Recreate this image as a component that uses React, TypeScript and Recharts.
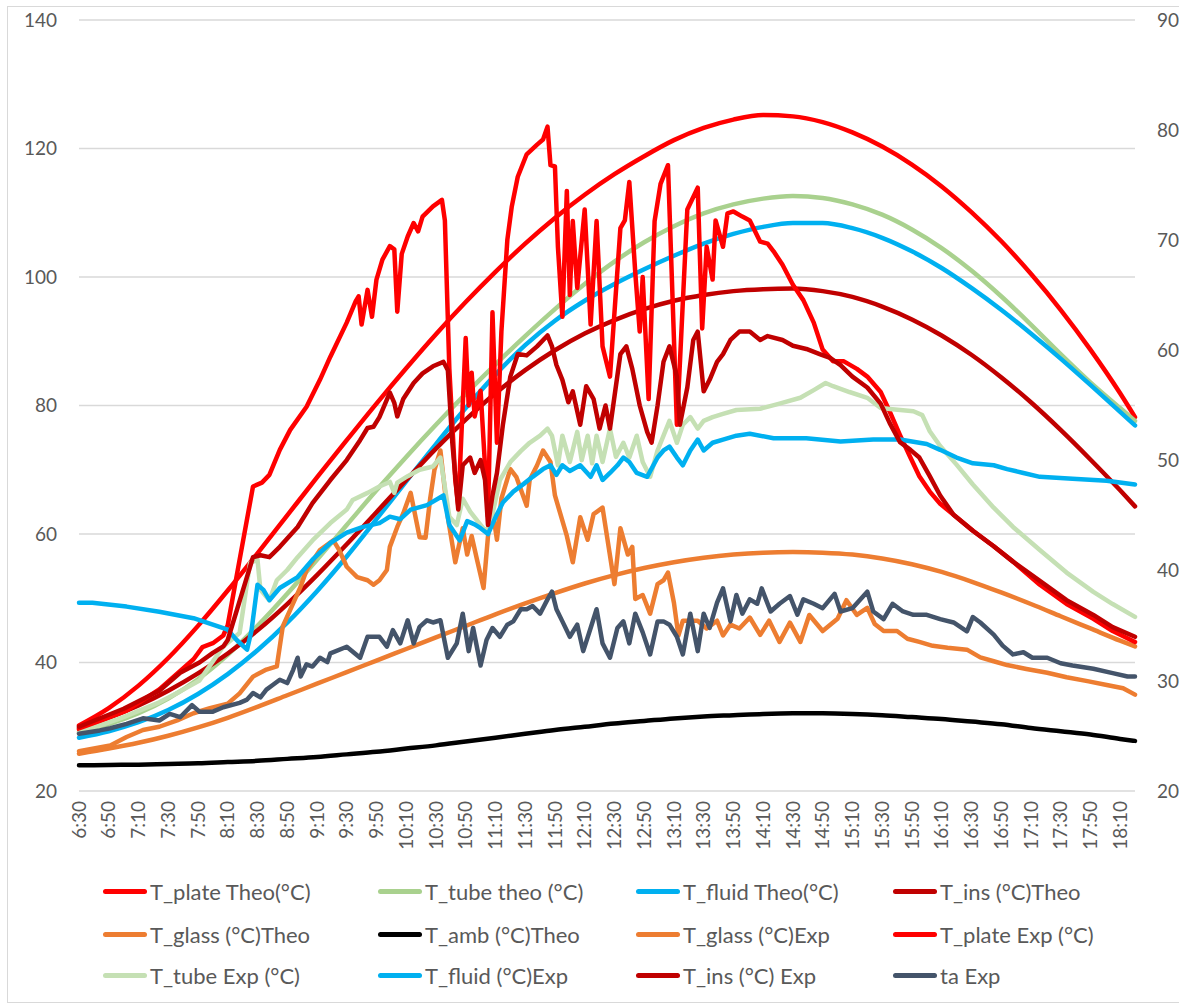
import React from 'react';
import { LineChart, Line, XAxis, YAxis, CartesianGrid } from 'recharts';

// minutes after 6:30
const toMin = (s: string) => {
  const [h, m] = s.split(':').map(Number);
  return h * 60 + m - 390;
};

const timeLabels = [
  '6:30', '6:50', '7:10', '7:30', '7:50', '8:10', '8:30', '8:50', '9:10', '9:30', '9:50', '10:10',
  '10:30', '10:50', '11:10', '11:30', '11:50', '12:10', '12:30', '12:50', '13:10', '13:30', '13:50', '14:10',
  '14:30', '14:50', '15:10', '15:30', '15:50', '16:10', '16:30', '16:50', '17:10', '17:30', '17:50', '18:10',
];
const theoTimes = [...timeLabels, '18:20'];

const leftTicks = [20, 40, 60, 80, 100, 120, 140];
const rightTicks = [20, 30, 40, 50, 60, 70, 80, 90];

// theoretical series, one value per theoTimes entry
const plateTheo = [30.2, 32.9, 36.4, 40.7, 45.7, 51.2, 57.0, 62.9, 68.8, 74.6, 80.3, 85.8, 91.1, 96.1, 100.8, 105.2, 109.2, 112.8, 116.0, 118.8, 121.3, 123.2, 124.5, 125.2, 125.0, 124.1, 122.5, 120.3, 117.5, 114.1, 110.1, 105.6, 100.5, 94.9, 88.7, 81.9, 78.2];
const tubeTheo = [29.2, 30.4, 32.1, 34.4, 37.4, 41.2, 45.7, 50.7, 56.0, 61.4, 66.8, 72.0, 77.0, 81.8, 86.4, 90.8, 95.0, 98.9, 102.4, 105.4, 107.9, 109.9, 111.3, 112.2, 112.6, 112.3, 111.3, 109.7, 107.4, 104.5, 101.0, 97.0, 92.6, 88.0, 83.6, 79.6, 77.6];
const fluidTheo = [28.3, 29.3, 30.7, 32.6, 35.1, 38.2, 41.9, 46.2, 51.1, 56.5, 62.3, 68.2, 74.0, 79.6, 84.8, 89.4, 93.2, 96.3, 98.9, 101.2, 103.3, 105.2, 106.7, 107.8, 108.4, 108.4, 107.6, 106.1, 104.0, 101.4, 98.3, 94.9, 91.2, 87.3, 83.2, 79.0, 76.9];
const insTheo = [29.8, 31.4, 33.3, 35.6, 38.3, 41.4, 45.0, 49.1, 53.6, 58.4, 63.4, 68.4, 73.3, 77.8, 81.9, 85.5, 88.6, 91.2, 93.3, 95.0, 96.3, 97.2, 97.8, 98.1, 98.2, 97.8, 96.9, 95.4, 93.4, 90.9, 87.9, 84.4, 80.5, 76.2, 71.6, 66.8, 64.3];
const glassTheo = [25.8, 26.6, 27.5, 28.6, 29.9, 31.4, 33.1, 34.9, 36.7, 38.5, 40.3, 42.1, 43.9, 45.7, 47.5, 49.2, 50.8, 52.3, 53.6, 54.7, 55.6, 56.3, 56.8, 57.1, 57.2, 57.1, 56.8, 56.2, 55.3, 54.1, 52.6, 50.9, 49.1, 47.2, 45.3, 43.4, 42.5];
const ambTheo = [24.0, 24.05, 24.1, 24.2, 24.3, 24.5, 24.7, 25.0, 25.3, 25.7, 26.1, 26.6, 27.1, 27.7, 28.3, 28.9, 29.5, 30.0, 30.5, 30.9, 31.3, 31.6, 31.8, 32.0, 32.1, 32.1, 32.0, 31.8, 31.5, 31.2, 30.8, 30.4, 29.8, 29.3, 28.8, 28.1, 27.8];

// experimental series, [time, value]
const glassExp: [string, number][] = [
  ['6:30', 26.2], ['6:51', 27.1], ['7:02', 28.4], ['7:13', 29.5], ['7:24', 30.0], ['7:36', 31.0], ['7:47', 32.1], ['7:58', 32.9],
  ['8:10', 33.6], ['8:18', 35.2], ['8:27', 37.8], ['8:36', 38.9], ['8:43', 39.4], ['8:47', 45.6], ['8:52', 48.2], ['8:59', 51.8],
  ['9:03', 54.4], ['9:12', 57.5], ['9:21', 59.0], ['9:25', 57.5], ['9:30', 54.9], ['9:37', 53.3], ['9:44', 52.8], ['9:48', 52.1],
  ['9:52', 52.8], ['9:57', 54.4], ['9:59', 58.0], ['10:04', 61.1], ['10:08', 63.2], ['10:13', 66.4], ['10:19', 59.5], ['10:23', 59.4],
  ['10:26', 65.3], ['10:29', 70.0], ['10:33', 73.0], ['10:38', 62.6], ['10:43', 55.6], ['10:48', 60.9], ['10:51', 56.8], ['10:54', 59.7],
  ['10:58', 55.6], ['11:02', 51.6], ['11:05', 59.7], ['11:08', 63.8], ['11:11', 59.1], ['11:14', 65.5], ['11:20', 70.1], ['11:24', 68.9],
  ['11:31', 64.4], ['11:33', 68.4], ['11:38', 70.7], ['11:42', 73.0], ['11:47', 71.2], ['11:50', 66.0], ['11:58', 59.7], ['12:02', 55.6],
  ['12:07', 62.6], ['12:12', 59.1], ['12:16', 63.1], ['12:22', 64.1], ['12:30', 52.2], ['12:34', 60.9], ['12:39', 56.8], ['12:42', 58.0],
  ['12:44', 49.9], ['12:49', 50.5], ['12:54', 47.6], ['12:59', 52.2], ['13:03', 52.8], ['13:06', 54.0], ['13:10', 49.3], ['13:13', 44.2],
  ['13:16', 46.5], ['13:26', 46.5], ['13:32', 45.3], ['13:39', 46.5], ['13:43', 44.2], ['13:48', 45.9], ['13:54', 45.3], ['14:01', 47.0],
  ['14:08', 44.3], ['14:14', 46.5], ['14:21', 43.2], ['14:28', 46.2], ['14:35', 43.2], ['14:41', 47.4], ['14:50', 44.9], ['15:00', 46.8],
  ['15:06', 49.7], ['15:13', 47.4], ['15:20', 48.5], ['15:25', 46.0], ['15:31', 44.9], ['15:40', 44.9], ['15:47', 43.7], ['15:55', 43.2],
  ['16:04', 42.6], ['16:14', 42.3], ['16:27', 42.0], ['16:36', 40.8], ['16:45', 40.2], ['16:54', 39.6], ['17:07', 39.0], ['17:21', 38.4],
  ['17:34', 37.7], ['17:48', 37.1], ['18:01', 36.5], ['18:12', 36.0], ['18:20', 35.0],
];

const plateExp: [string, number][] = [
  ['6:30', 29.6], ['7:02', 32.5], ['7:24', 35.8], ['7:47', 40.5], ['7:53', 42.4], ['8:00', 43.0], ['8:07', 44.2], ['8:10', 45.8],
  ['8:18', 56.0], ['8:27', 67.4], ['8:33', 68.0], ['8:38', 69.2], ['8:45', 73.1], ['8:52', 76.2], ['9:03', 79.8], ['9:12', 84.0],
  ['9:19', 87.6], ['9:30', 92.9], ['9:36', 96.2], ['9:38', 97.0], ['9:40', 92.6], ['9:44', 98.0], ['9:47', 93.8], ['9:50', 99.6],
  ['9:54', 102.7], ['9:59', 104.8], ['10:02', 104.3], ['10:04', 94.6], ['10:07', 103.6], ['10:11', 106.3], ['10:15', 108.4], ['10:18', 107.1],
  ['10:21', 109.4], ['10:28', 111.0], ['10:34', 112.0], ['10:36', 108.8], ['10:39', 85.7], ['10:43', 68.4], ['10:45', 64.4], ['10:50', 90.5],
  ['10:52', 80.0], ['10:54', 85.1], ['10:56', 78.3], ['11:00', 82.3], ['11:05', 62.7], ['11:08', 94.5], ['11:11', 74.2], ['11:14', 91.5],
  ['11:18', 105.8], ['11:21', 111.0], ['11:25', 115.6], ['11:31', 119.1], ['11:38', 120.6], ['11:42', 121.4], ['11:45', 123.4], ['11:47', 117.4],
  ['11:50', 117.2], ['11:52', 104.7], ['11:55', 93.8], ['11:58', 113.4], ['12:00', 97.2], ['12:02', 108.7], ['12:05', 98.3], ['12:10', 110.5],
  ['12:14', 92.6], ['12:18', 108.7], ['12:22', 89.2], ['12:27', 84.5], ['12:34', 107.6], ['12:37', 108.8], ['12:40', 114.8], ['12:44', 100.7],
  ['12:47', 91.5], ['12:49', 100.0], ['12:53', 81.0], ['12:57', 108.7], ['13:01', 114.5], ['13:06', 117.4], ['13:12', 77.0], ['13:19', 110.5],
  ['13:26', 113.9], ['13:29', 92.0], ['13:32', 104.7], ['13:36', 99.6], ['13:38', 108.8], ['13:43', 104.7], ['13:46', 109.9], ['13:50', 110.2],
  ['13:56', 109.4], ['14:01', 108.8], ['14:08', 105.5], ['14:13', 105.2], ['14:17', 104.0], ['14:23', 101.9], ['14:30', 98.8], ['14:37', 96.4],
  ['14:44', 92.9], ['14:50', 88.7], ['14:57', 86.9], ['15:04', 86.9], ['15:13', 85.7], ['15:20', 84.5], ['15:29', 82.1], ['15:35', 79.1],
  ['15:42', 75.4], ['15:49', 71.9], ['15:55', 69.0], ['16:02', 66.6], ['16:09', 64.7], ['16:18', 63.0], ['16:31', 60.5], ['16:45', 58.1],
  ['16:58', 55.7], ['17:16', 52.1], ['17:34', 49.1], ['17:52', 46.8], ['18:05', 44.9], ['18:20', 43.2],
];

const tubeExp: [string, number][] = [
  ['6:30', 29.0], ['7:00', 31.5], ['7:24', 33.8], ['7:38', 35.5], ['7:51', 37.2], ['8:07', 42.5], ['8:18', 44.6], ['8:25', 55.5],
  ['8:30', 56.0], ['8:32', 51.3], ['8:38', 49.7], ['8:43', 52.8], ['8:50', 54.4], ['8:57', 56.4], ['9:07', 59.0], ['9:19', 61.7],
  ['9:30', 63.8], ['9:34', 65.3], ['9:44', 66.4], ['9:52', 67.4], ['9:59', 68.1], ['10:02', 66.4], ['10:04', 68.0], ['10:11', 69.0],
  ['10:19', 70.0], ['10:28', 70.5], ['10:33', 71.9], ['10:39', 62.7], ['10:44', 61.4], ['10:48', 65.5], ['10:53', 63.5], ['10:58', 62.0],
  ['11:04', 60.3], ['11:08', 63.1], ['11:13', 68.4], ['11:20', 71.2], ['11:27', 72.9], ['11:33', 74.2], ['11:40', 75.3], ['11:45', 76.4],
  ['11:48', 75.3], ['11:52', 70.7], ['11:55', 75.3], ['12:00', 71.2], ['12:05', 75.9], ['12:08', 71.5], ['12:12', 75.3], ['12:15', 71.0],
  ['12:18', 75.3], ['12:22', 71.2], ['12:27', 76.4], ['12:31', 72.0], ['12:36', 74.2], ['12:40', 71.9], ['12:45', 75.3], ['12:49', 71.2],
  ['12:54', 68.9], ['12:59', 73.0], ['13:03', 75.3], ['13:07', 77.6], ['13:12', 74.2], ['13:16', 77.0], ['13:21', 78.2], ['13:26', 76.4],
  ['13:30', 77.6], ['13:36', 78.2], ['13:43', 78.7], ['13:52', 79.3], ['14:08', 79.5], ['14:21', 80.3], ['14:35', 81.2], ['14:44', 82.4],
  ['14:52', 83.5], ['14:57', 83.0], ['15:08', 82.1], ['15:20', 81.2], ['15:29', 79.6], ['15:37', 79.4], ['15:51', 79.1], ['15:57', 78.5],
  ['16:02', 76.0], ['16:09', 73.7], ['16:20', 70.8], ['16:31', 67.7], ['16:45', 64.1], ['16:58', 61.1], ['17:16', 57.5], ['17:34', 54.0],
  ['17:52', 51.0], ['18:05', 49.1], ['18:20', 47.1],
];

const fluidExp: [string, number][] = [
  ['6:30', 49.3], ['6:39', 49.3], ['7:02', 48.7], ['7:24', 47.9], ['7:47', 46.9], ['8:10', 45.1], ['8:16', 43.5], ['8:23', 42.0],
  ['8:26', 45.0], ['8:30', 52.1], ['8:34', 51.3], ['8:38', 49.7], ['8:45', 51.6], ['8:57', 53.3], ['9:07', 56.0], ['9:19', 58.6],
  ['9:30', 60.2], ['9:41', 61.1], ['9:52', 61.7], ['9:59', 62.7], ['10:06', 62.3], ['10:13', 63.8], ['10:24', 64.5], ['10:35', 66.0],
  ['10:39', 61.4], ['10:46', 59.0], ['10:51', 62.0], ['10:56', 61.5], ['11:00', 60.9], ['11:05', 60.0], ['11:10', 62.6], ['11:15', 64.9],
  ['11:22', 66.6], ['11:29', 67.8], ['11:35', 68.9], ['11:42', 70.1], ['11:47', 70.7], ['11:51', 69.2], ['11:55', 70.7], ['12:00', 69.8],
  ['12:07', 70.7], ['12:14', 68.9], ['12:18', 70.7], ['12:22', 68.4], ['12:27', 69.5], ['12:32', 70.7], ['12:36', 71.9], ['12:40', 71.2],
  ['12:45', 69.5], ['12:52', 68.9], ['12:59', 71.9], ['13:03', 73.0], ['13:07', 73.6], ['13:12', 71.9], ['13:16', 70.7], ['13:21', 73.0],
  ['13:26', 74.7], ['13:30', 73.0], ['13:36', 74.2], ['13:43', 74.7], ['13:52', 75.3], ['14:01', 75.6], ['14:17', 74.9], ['14:39', 74.9],
  ['15:02', 74.4], ['15:24', 74.7], ['15:42', 74.7], ['16:00', 74.0], ['16:09', 73.1], ['16:20', 71.9], ['16:31', 71.0], ['16:45', 70.7],
  ['16:54', 70.1], ['17:05', 69.5], ['17:16', 68.9], ['17:38', 68.6], ['18:01', 68.3], ['18:20', 67.7],
];

const insExp: [string, number][] = [
  ['6:30', 30.0], ['7:00', 32.8], ['7:24', 35.6], ['7:38', 38.4], ['7:51', 40.0], ['8:00', 41.5], ['8:07', 42.5], ['8:10', 43.5],
  ['8:27', 56.4], ['8:32', 56.7], ['8:38', 56.4], ['8:45', 58.0], ['8:57', 61.1], ['9:07', 64.8], ['9:19', 68.4], ['9:30', 71.5],
  ['9:39', 74.6], ['9:44', 76.5], ['9:48', 76.7], ['9:52', 78.2], ['9:59', 82.0], ['10:02', 80.4], ['10:04', 78.3], ['10:08', 81.0],
  ['10:15', 83.5], ['10:21', 85.0], ['10:28', 86.1], ['10:35', 86.8], ['10:38', 85.5], ['10:41', 74.2], ['10:45', 63.8], ['10:48', 70.7],
  ['10:53', 71.9], ['10:56', 69.5], ['11:00', 71.5], ['11:03', 68.4], ['11:05', 61.4], ['11:08', 66.0], ['11:11', 69.5], ['11:15', 77.0],
  ['11:20', 84.5], ['11:25', 88.0], ['11:31', 87.8], ['11:38', 89.2], ['11:45', 90.9], ['11:48', 89.2], ['11:51', 86.3], ['11:55', 84.0],
  ['11:59', 80.5], ['12:02', 82.2], ['12:07', 77.0], ['12:11', 83.0], ['12:16', 81.0], ['12:20', 76.4], ['12:24', 80.0], ['12:27', 76.4],
  ['12:34', 88.0], ['12:38', 89.2], ['12:42', 85.7], ['12:47', 80.0], ['12:52', 75.9], ['12:55', 74.2], ['12:59', 80.0], ['13:03', 86.8],
  ['13:07', 89.2], ['13:12', 84.5], ['13:14', 77.0], ['13:19', 82.8], ['13:23', 90.2], ['13:26', 91.5], ['13:30', 82.2], ['13:34', 84.0],
  ['13:39', 86.8], ['13:43', 88.0], ['13:48', 90.2], ['13:54', 91.5], ['14:01', 91.5], ['14:08', 90.2], ['14:13', 90.8], ['14:23', 90.2],
  ['14:30', 89.3], ['14:39', 88.8], ['14:48', 88.0], ['14:55', 87.4], ['15:02', 86.3], ['15:10', 84.5], ['15:20', 82.8], ['15:29', 80.3],
  ['15:35', 77.3], ['15:42', 74.3], ['15:49', 73.1], ['15:55', 71.9], ['16:02', 69.0], ['16:09', 66.0], ['16:18', 63.0], ['16:31', 60.5],
  ['16:45', 58.1], ['16:58', 55.7], ['17:16', 52.7], ['17:34', 49.7], ['17:52', 47.4], ['18:05', 45.5], ['18:20', 44.0],
];

// ambient, read on the right axis
const taExp: [string, number][] = [
  ['6:30', 25.2], ['6:44', 25.5], ['6:51', 25.7], ['7:02', 26.1], ['7:13', 26.6], ['7:24', 26.4], ['7:31', 27.0], ['7:38', 26.7],
  ['7:46', 27.8], ['7:51', 27.2], ['8:00', 27.2], ['8:07', 27.6], ['8:18', 28.0], ['8:23', 28.3], ['8:27', 28.9], ['8:32', 28.5],
  ['8:36', 29.2], ['8:40', 29.6], ['8:45', 30.1], ['8:50', 29.8], ['8:54', 31.0], ['8:57', 32.1], ['8:59', 30.4], ['9:03', 31.5],
  ['9:07', 31.3], ['9:12', 32.1], ['9:17', 31.7], ['9:19', 32.5], ['9:30', 33.1], ['9:39', 32.1], ['9:44', 34.0], ['9:52', 34.0],
  ['9:57', 33.1], ['10:01', 34.6], ['10:06', 33.4], ['10:11', 35.5], ['10:15', 33.4], ['10:19', 34.9], ['10:24', 35.5], ['10:28', 35.3],
  ['10:33', 35.5], ['10:38', 32.1], ['10:44', 33.4], ['10:48', 36.1], ['10:52', 32.7], ['10:55', 34.8], ['11:00', 31.4], ['11:04', 33.7],
  ['11:08', 34.8], ['11:13', 34.0], ['11:18', 35.1], ['11:22', 35.4], ['11:27', 36.5], ['11:31', 36.5], ['11:35', 36.8], ['11:40', 36.1],
  ['11:45', 37.4], ['11:48', 38.1], ['11:51', 36.5], ['11:55', 35.4], ['12:00', 34.0], ['12:05', 35.1], ['12:09', 32.7], ['12:14', 34.8],
  ['12:18', 36.5], ['12:22', 33.4], ['12:27', 32.1], ['12:32', 34.8], ['12:36', 35.4], ['12:40', 33.4], ['12:44', 36.1], ['12:49', 34.4],
  ['12:54', 32.4], ['12:59', 35.4], ['13:03', 35.4], ['13:07', 35.1], ['13:12', 34.0], ['13:16', 32.4], ['13:21', 36.1], ['13:26', 32.7],
  ['13:30', 36.1], ['13:34', 34.8], ['13:39', 37.1], ['13:43', 38.4], ['13:48', 35.4], ['13:52', 37.8], ['13:56', 36.1], ['14:01', 37.4],
  ['14:06', 37.0], ['14:09', 38.4], ['14:15', 36.3], ['14:21', 37.0], ['14:28', 37.7], ['14:33', 36.0], ['14:37', 37.4], ['14:44', 37.0],
  ['14:50', 36.6], ['14:58', 37.9], ['15:02', 36.3], ['15:10', 36.6], ['15:20', 38.1], ['15:24', 36.3], ['15:31', 35.6], ['15:37', 37.0],
  ['15:44', 36.3], ['15:51', 36.0], ['16:00', 36.0], ['16:09', 35.6], ['16:18', 35.3], ['16:27', 34.5], ['16:31', 35.8], ['16:36', 35.3],
  ['16:45', 34.2], ['16:51', 33.2], ['16:58', 32.4], ['17:05', 32.6], ['17:11', 32.1], ['17:21', 32.1], ['17:30', 31.6], ['17:38', 31.4],
  ['17:52', 31.1], ['18:05', 30.7], ['18:15', 30.4], ['18:20', 30.4],
];

const theo = (vals: number[]) => vals.map((v, i) => ({ t: toMin(theoTimes[i]), v }));
const exp = (pairs: [string, number][]) => pairs.map(([s, v]) => ({ t: toMin(s), v }));

const series = [
  { name: 'T_plate Theo(°C)', color: '#FF0000', data: theo(plateTheo), smooth: true, axis: 'left' },
  { name: 'T_tube theo (°C)', color: '#A9D18E', data: theo(tubeTheo), smooth: true, axis: 'left' },
  { name: 'T_fluid Theo(°C)', color: '#00B0F0', data: theo(fluidTheo), smooth: true, axis: 'left' },
  { name: 'T_ins (°C)Theo', color: '#C00000', data: theo(insTheo), smooth: true, axis: 'left' },
  { name: 'T_glass (°C)Theo', color: '#ED7D31', data: theo(glassTheo), smooth: true, axis: 'left' },
  { name: 'T_amb (°C)Theo', color: '#000000', data: theo(ambTheo), smooth: true, axis: 'left' },
  { name: 'T_glass (°C)Exp', color: '#ED7D31', data: exp(glassExp), smooth: false, axis: 'left' },
  { name: 'T_plate Exp (°C)', color: '#FF0000', data: exp(plateExp), smooth: false, axis: 'left' },
  { name: 'T_tube Exp (°C)', color: '#C5E0B4', data: exp(tubeExp), smooth: false, axis: 'left' },
  { name: 'T_fluid (°C)Exp', color: '#00B0F0', data: exp(fluidExp), smooth: false, axis: 'left' },
  { name: 'T_ins (°C) Exp', color: '#C00000', data: exp(insExp), smooth: false, axis: 'left' },
  { name: 'ta Exp', color: '#44546A', data: exp(taExp), smooth: false, axis: 'right' },
];

const FONT = 'Lato, "Open Sans", sans-serif';
const TEXT = '#595959';

const TimeTick = (props: any) => {
  const { x, y, payload } = props;
  const idx = timeLabels.findIndex((s) => toMin(s) === payload.value);
  return (
    <g transform={`translate(${x},${y})`}>
      <text transform="rotate(-90)" textAnchor="end" dy="0.35em" fill={TEXT} fontSize={19} fontFamily={FONT}>
        {idx >= 0 ? timeLabels[idx] : ''}
      </text>
    </g>
  );
};

// legend grid: left edge of each column's line sample, centre of each row
const legendCols = [103, 378, 636, 893];
const legendRows = [891, 934, 975];

export default function App() {
  return (
    <div style={{ position: 'absolute', left: 0, top: 0, width: 1179, height: 1006, background: '#fff', overflow: 'hidden', fontFamily: FONT }}>
      <div style={{ position: 'absolute', left: 7, top: 6, width: 1200, height: 995, border: '1.5px solid #D9D9D9' }} />
      <div style={{ position: 'absolute', left: 0, top: 0 }}>
        <LineChart width={1179} height={1006} margin={{ top: 20, right: 0, bottom: 0, left: 0 }}>
          <CartesianGrid yAxisId="left" vertical={false} stroke="#D9D9D9" strokeWidth={1.3} />
          <XAxis
            dataKey="t"
            type="number"
            domain={[0, 710]}
            ticks={timeLabels.map(toMin)}
            interval={0}
            axisLine={false}
            tickLine={false}
            tickSize={0}
            tickMargin={10}
            height={215}
            tick={<TimeTick />}
          />
          <YAxis
            yAxisId="left"
            orientation="left"
            domain={[20, 140]}
            ticks={leftTicks}
            width={79}
            axisLine={false}
            tickLine={false}
            tickSize={0}
            tickMargin={22}
            tick={{ fill: TEXT, fontSize: 19, fontFamily: FONT }}
          />
          <YAxis
            yAxisId="right"
            orientation="right"
            domain={[20, 90]}
            ticks={rightTicks}
            width={44}
            axisLine={false}
            tickLine={false}
            tickSize={0}
            tickMargin={22}
            tick={{ fill: TEXT, fontSize: 19, fontFamily: FONT, textAnchor: 'start' }}
          />
          {series.map((s) => (
            <Line
              key={s.name}
              name={s.name}
              data={s.data}
              dataKey="v"
              yAxisId={s.axis}
              type={s.smooth ? 'monotone' : 'linear'}
              stroke={s.color}
              strokeWidth={4.5}
              strokeLinejoin="round"
              strokeLinecap="round"
              dot={false}
              activeDot={false}
              isAnimationActive={false}
            />
          ))}
        </LineChart>
      </div>
      {series.map((s, i) => {
        const col = i % 4;
        const row = Math.floor(i / 4);
        return (
          <div
            key={s.name}
            style={{ position: 'absolute', left: legendCols[col], top: legendRows[row] - 15, height: 30, display: 'flex', alignItems: 'center' }}
          >
            <div style={{ width: 44, height: 5, borderRadius: 3, background: s.color }} />
            <span style={{ marginLeft: 3, fontSize: 22, color: TEXT, whiteSpace: 'nowrap' }}>{s.name}</span>
          </div>
        );
      })}
    </div>
  );
}
